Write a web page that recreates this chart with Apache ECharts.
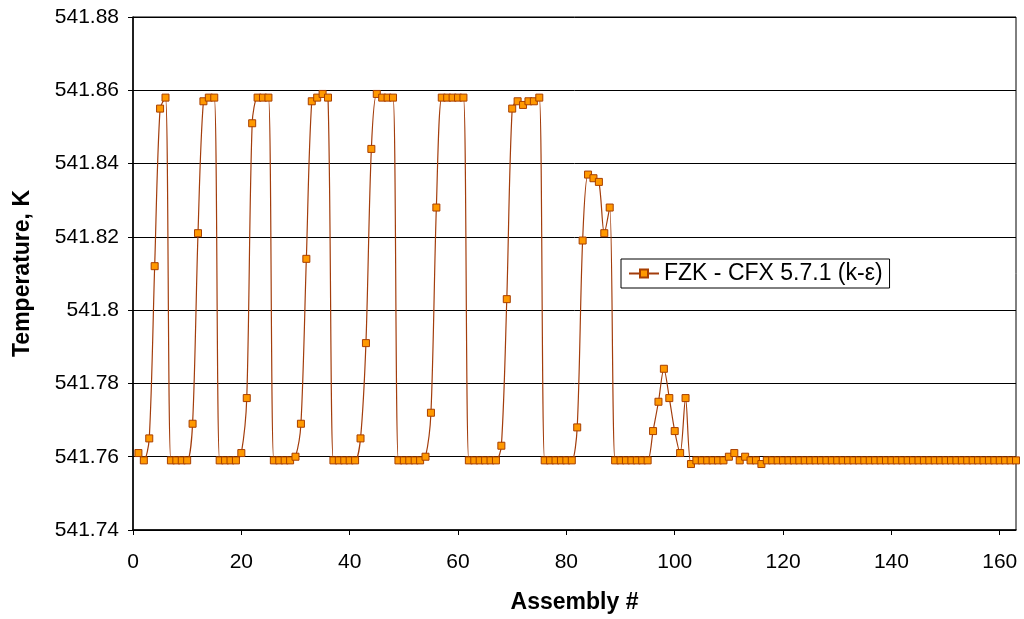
<!DOCTYPE html>
<html>
<head>
<meta charset="utf-8">
<title>Temperature by assembly</title>
<script src="https://cdn.jsdelivr.net/npm/echarts@6/dist/echarts.min.js"></script>
<style>
  html, body { margin: 0; padding: 0; background: #fff; }
  #chart { width: 1024px; height: 619px; }
</style>
</head>
<body>
<div id="chart"></div>
<script>
// Outlet temperature per assembly, K (assemblies numbered from 1)
const temperatures = [
  541.761, 541.759, 541.765, 541.812, 541.855, 541.858, 541.759, 541.759, 541.759, 541.759,
  541.769, 541.821, 541.857, 541.858, 541.858, 541.759, 541.759, 541.759, 541.759, 541.761,
  541.776, 541.851, 541.858, 541.858, 541.858, 541.759, 541.759, 541.759, 541.759, 541.760,
  541.769, 541.814, 541.857, 541.858, 541.859, 541.858, 541.759, 541.759, 541.759, 541.759,
  541.759, 541.765, 541.791, 541.844, 541.859, 541.858, 541.858, 541.858, 541.759, 541.759,
  541.759, 541.759, 541.759, 541.760, 541.772, 541.828, 541.858, 541.858, 541.858, 541.858,
  541.858, 541.759, 541.759, 541.759, 541.759, 541.759, 541.759, 541.763, 541.803, 541.855,
  541.857, 541.856, 541.857, 541.857, 541.858, 541.759, 541.759, 541.759, 541.759, 541.759,
  541.759, 541.768, 541.819, 541.837, 541.836, 541.835, 541.821, 541.828, 541.759, 541.759,
  541.759, 541.759, 541.759, 541.759, 541.759, 541.767, 541.775, 541.784, 541.776, 541.767,
  541.761, 541.776, 541.758, 541.759, 541.759, 541.759, 541.759, 541.759, 541.759, 541.760,
  541.761, 541.759, 541.760, 541.759, 541.759, 541.758, 541.759, 541.759, 541.759, 541.759,
  541.759, 541.759, 541.759, 541.759, 541.759, 541.759, 541.759, 541.759, 541.759, 541.759,
  541.759, 541.759, 541.759, 541.759, 541.759, 541.759, 541.759, 541.759, 541.759, 541.759,
  541.759, 541.759, 541.759, 541.759, 541.759, 541.759, 541.759, 541.759, 541.759, 541.759,
  541.759, 541.759, 541.759, 541.759, 541.759, 541.759, 541.759, 541.759, 541.759, 541.759,
  541.759, 541.759, 541.759
];
const assemblies = temperatures.map((_, i) => i + 1);

const seriesName = 'FZK - CFX 5.7.1 (k-\u03b5)';
const xTitle = 'Assembly #';
const yTitle = 'Temperature, K';

const FONT = '"Liberation Sans", Arial, sans-serif';

const chart = echarts.init(document.getElementById('chart'), null, { renderer: 'canvas' });

chart.setOption({
  animation: false,
  backgroundColor: '#ffffff',
  textStyle: { fontFamily: FONT },
  grid: {
    left: 133, right: 8, top: 17, bottom: 89,
    show: true, borderColor: '#000', borderWidth: 1, backgroundColor: '#fff'
  },
  legend: {
    left: 621, top: 259,
    padding: [3, 7, 3, 7],
    borderColor: '#000', borderWidth: 1, backgroundColor: '#fff',
    itemWidth: 30, itemHeight: 10, itemGap: 4,
    textStyle: { fontFamily: FONT, fontSize: 23, color: '#000' },
    data: [seriesName]
  },
  xAxis: {
    type: 'value',
    min: 0, max: 163, interval: 20,
    name: xTitle, nameLocation: 'middle', nameGap: 61,
    nameTextStyle: { fontFamily: FONT, fontSize: 23, fontWeight: 'bold', color: '#000' },
    axisLine: { show: true, onZero: false, lineStyle: { color: '#000', width: 1.5 } },
    axisTick: { show: true, inside: false, length: 5, lineStyle: { color: '#000' } },
    axisLabel: { margin: 22, fontFamily: FONT, fontSize: 21, color: '#000', showMaxLabel: false },
    splitLine: { show: false }
  },
  yAxis: {
    type: 'value',
    min: 541.74, max: 541.88, interval: 0.02,
    name: yTitle, nameLocation: 'middle', nameGap: 99, nameRotate: 90,
    nameTextStyle: { fontFamily: FONT, fontSize: 23, fontWeight: 'bold', color: '#000' },
    axisLine: { show: true, onZero: false, lineStyle: { color: '#000', width: 1.5 } },
    axisTick: { show: true, inside: false, length: 5, lineStyle: { color: '#000' } },
    axisLabel: {
      margin: 14, fontFamily: FONT, fontSize: 21, color: '#000',
      formatter: v => String(+v.toFixed(2))
    },
    splitLine: { show: true, lineStyle: { color: '#000', width: 1 } }
  },
  series: [{
    name: seriesName,
    type: 'line',
    data: assemblies.map((a, i) => [a, temperatures[i]]),
    smooth: 0.3,
    symbol: 'rect',
    symbolSize: 7,
    showAllSymbol: true,
    lineStyle: { color: '#a33d0c', width: 1.2 },
    itemStyle: { color: '#ff9900', borderColor: '#a83f00', borderWidth: 1 }
  }]
});
</script>
</body>
</html>
